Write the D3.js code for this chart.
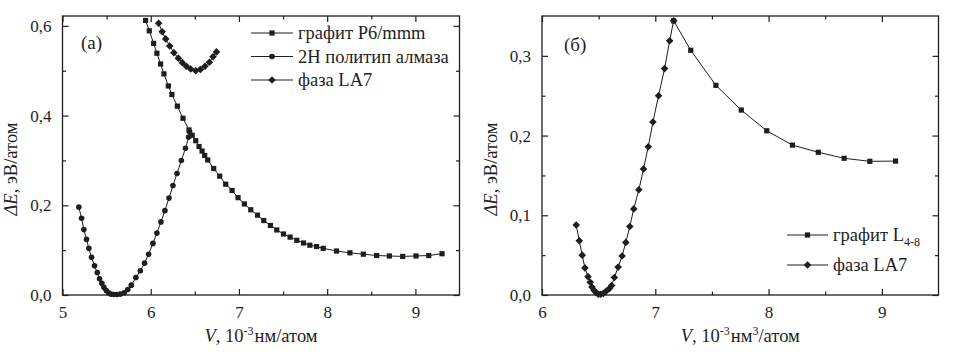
<!DOCTYPE html>
<html>
<head>
<meta charset="utf-8">
<script src="https://cdn.jsdelivr.net/npm/d3@7"></script>
<style>
  html, body { margin: 0; padding: 0; background: #fff; }
  svg { display: block; }
</style>
</head>
<body>
<svg id="chart" width="959" height="358"></svg>
<script>
// ---------- DATA ----------
// Panel (а)
const graphiteP6_V = [5.942,5.984,6.033,6.07,6.112,6.15,6.2,6.24,6.302,6.366,6.434,6.47,6.51,6.548,6.582,6.612,6.646,6.714,6.782,6.85,6.922,6.99,7.062,7.134,7.21,7.281,7.357,7.429,7.505,7.58,7.656,7.732,7.804,7.88,7.955,8.106,8.258,8.41,8.561,8.705,8.856,9.007,9.151,9.302];
const graphiteP6_E = [0.612,0.589,0.561,0.539,0.515,0.493,0.466,0.447,0.421,0.394,0.368,0.356,0.344,0.331,0.321,0.311,0.301,0.282,0.265,0.247,0.233,0.217,0.203,0.190,0.178,0.166,0.155,0.145,0.136,0.129,0.122,0.116,0.111,0.108,0.104,0.098,0.094,0.091,0.088,0.087,0.086,0.087,0.088,0.092];

const diamond2H_V = [5.185,5.216,5.242,5.272,5.299,5.329,5.363,5.394,5.42,5.446,5.469,5.496,5.522,5.548,5.582,5.616,5.655,5.7,5.74,5.78,5.832,5.882,5.93,5.976,6.025,6.07,6.116,6.161,6.207,6.252,6.298,6.347,6.394,6.43,6.441];
const diamond2H_E = [0.196,0.171,0.146,0.124,0.104,0.084,0.065,0.050,0.036,0.026,0.017,0.010,0.005,0.002,0.001,0.001,0.002,0.005,0.012,0.022,0.039,0.054,0.071,0.091,0.115,0.138,0.163,0.188,0.216,0.244,0.271,0.300,0.327,0.352,0.364];

const la7a_V = [6.09,6.13,6.17,6.215,6.263,6.313,6.358,6.404,6.453,6.51,6.563,6.615,6.665,6.706,6.745];
const la7a_E = [0.606,0.587,0.571,0.555,0.540,0.528,0.518,0.510,0.504,0.500,0.503,0.510,0.519,0.531,0.542];

// Panel (б)
const graphiteL48_V = [7.162,7.313,7.535,7.759,7.984,8.211,8.439,8.667,8.894,9.121];
const graphiteL48_E = [0.344,0.307,0.263,0.232,0.206,0.188,0.179,0.1715,0.1677,0.168];

const la7b_V = [6.302,6.329,6.355,6.379,6.406,6.426,6.441,6.459,6.477,6.497,6.518,6.542,6.568,6.595,6.615,6.639,6.672,6.707,6.74,6.775,6.81,6.855,6.896,6.938,6.979,7.029,7.082,7.127,7.162];
const la7b_E = [0.0878,0.068,0.050,0.034,0.023,0.016,0.010,0.006,0.003,0.001,0.001,0.002,0.005,0.008,0.012,0.022,0.035,0.049,0.066,0.086,0.108,0.132,0.158,0.186,0.217,0.250,0.284,0.319,0.344];

// Ticks
const xTicksA = [5,6,7,8,9];
const xMinorA = [5.5,6.5,7.5,8.5,9.5];
const yTicksA = [0,0.2,0.4,0.6];
const yMinorA = [0.1,0.3,0.5];
const xTicksB = [6,7,8,9];
const xMinorB = [6.5,7.5,8.5,9.5];
const yTicksB = [0,0.1,0.2,0.3];
const yMinorB = [0.05,0.15,0.25,0.35];

// Legend labels
const legendA = ["графит P6/mmm", "2H политип алмаза", "фаза LA7"];
const legendB = ["графит L", "фаза LA7"];

// ---------- DRAW ----------
const FONT = "'Liberation Serif'";
const svg = d3.select("#chart");
const INK = "#1e1e1e";
const fmt = d => d3.format(".1f")(d).replace(".", ",");

function zip(xs, ys) { return xs.map((x, i) => [x, ys[i]]); }
function styleText(sel, size) {
  return sel.style("font-family", FONT).style("font-size", size + "px").style("fill", INK);
}

const diamondPath = r => `M0,${-r}L${r},0L0,${r}L${-r},0Z`;
const markers = {
  square: g => g.append("rect").attr("x", -2.6).attr("y", -2.6).attr("width", 5.2).attr("height", 5.2).attr("fill", INK),
  circle: g => g.append("circle").attr("r", 2.8).attr("fill", INK),
  diamond: g => g.append("path").attr("d", diamondPath(3.8)).attr("fill", INK)
};

function panel(cfg) {
  const x = d3.scaleLinear().domain(cfg.xDomain).range([cfg.left, cfg.right]);
  const y = d3.scaleLinear().domain(cfg.yDomain).range([cfg.bottom, cfg.top]);
  const g = svg.append("g");

  const mk = (axis, vals, size, labels, fmtF) => {
    const a = axis.tickValues(vals).tickSize(size).tickSizeOuter(0);
    if (labels) a.tickFormat(fmtF).tickPadding(labels); else a.tickFormat("");
    const gg = g.append("g").call(a);
    gg.select(".domain").remove();
    gg.selectAll("line").attr("stroke", INK).attr("stroke-width", 1.2);
    styleText(gg.selectAll("text"), 17);
    return gg;
  };
  const inX = v => v < cfg.xDomain[1];
  const inY = v => v < cfg.yDomain[1];
  mk(d3.axisBottom(x), cfg.xTicks, -6, 11, d => d).attr("transform", `translate(0,${cfg.bottom})`);
  mk(d3.axisBottom(x), cfg.xMinor.filter(inX), -3.5).attr("transform", `translate(0,${cfg.bottom})`);
  mk(d3.axisTop(x), cfg.xTicks, -6).attr("transform", `translate(0,${cfg.top})`);
  mk(d3.axisTop(x), cfg.xMinor.filter(inX), -3.5).attr("transform", `translate(0,${cfg.top})`);
  mk(d3.axisLeft(y), cfg.yTicks, -6, 11, fmt).attr("transform", `translate(${cfg.left},0)`);
  mk(d3.axisLeft(y), cfg.yMinor.filter(inY), -3.5).attr("transform", `translate(${cfg.left},0)`);
  mk(d3.axisRight(y), cfg.yTicks, -6).attr("transform", `translate(${cfg.right},0)`);
  mk(d3.axisRight(y), cfg.yMinor.filter(inY), -3.5).attr("transform", `translate(${cfg.right},0)`);

  g.append("rect").attr("x", cfg.left).attr("y", cfg.top)
    .attr("width", cfg.right - cfg.left).attr("height", cfg.bottom - cfg.top)
    .attr("fill", "none").attr("stroke", INK).attr("stroke-width", 1.3);

  const line = d3.line().x(d => x(d[0])).y(d => y(d[1]));
  cfg.series.forEach(s => {
    const pts = zip(s.xs, s.ys);
    g.append("path").attr("d", line(pts)).attr("fill", "none").attr("stroke", INK).attr("stroke-width", 1);
    pts.forEach(p => {
      const mg = g.append("g").attr("transform", `translate(${x(p[0])},${y(p[1])})`);
      markers[s.marker](mg);
    });
  });

  styleText(g.append("text").attr("x", cfg.tagX).attr("y", cfg.tagY), 19).text(cfg.tag);

  const yt = styleText(g.append("text").attr("transform", `translate(${cfg.yTitleX},${cfg.yTitleY}) rotate(-90)`)
    .attr("text-anchor", "middle"), 18.5);
  yt.append("tspan").style("font-style", "italic").text("ΔE");
  yt.append("tspan").text(", эВ/атом");

  const xt = styleText(g.append("text").attr("x", (cfg.left + cfg.right) / 2).attr("y", 342)
    .attr("text-anchor", "middle"), 18.5);
  xt.append("tspan").style("font-style", "italic").text("V");
  xt.append("tspan").text(", 10");
  xt.append("tspan").attr("dy", -7).style("font-size", "12px").text("-3");
  if (cfg.cubic) {
    xt.append("tspan").attr("dy", 7).attr("dx", 1).text("нм");
    xt.append("tspan").attr("dy", -7).style("font-size", "12px").text("3");
    xt.append("tspan").attr("dy", 7).text("/атом");
  } else {
    xt.append("tspan").attr("dy", 7).attr("dx", 1).text("нм/атом");
  }

  cfg.legend.forEach((item, i) => {
    const ly = cfg.legY + i * cfg.legStep;
    g.append("line").attr("x1", cfg.legX1).attr("x2", cfg.legX2).attr("y1", ly).attr("y2", ly)
      .attr("stroke", INK).attr("stroke-width", 1);
    const mg = g.append("g").attr("transform", `translate(${(cfg.legX1 + cfg.legX2) / 2},${ly})`);
    markers[item.marker](mg);
    const t = styleText(g.append("text").attr("x", cfg.legX2 + 5).attr("y", ly + 6), 18.5).text(item.label);
    if (item.sub) {
      t.append("tspan").attr("dy", 5).style("font-size", "12px").text(item.sub);
    }
  });
}

panel({
  xDomain: [5, 9.5], yDomain: [0, 0.622],
  left: 62.5, right: 459.5, top: 16, bottom: 295,
  xTicks: xTicksA, xMinor: xMinorA, yTicks: yTicksA, yMinor: yMinorA,
  series: [
    { xs: graphiteP6_V, ys: graphiteP6_E, marker: "square" },
    { xs: diamond2H_V, ys: diamond2H_E, marker: "circle" },
    { xs: la7a_V, ys: la7a_E, marker: "diamond" }
  ],
  tag: "(а)", tagX: 81, tagY: 49,
  yTitleX: 17, yTitleY: 169,
  cubic: false,
  legend: [
    { label: legendA[0], marker: "square" },
    { label: legendA[1], marker: "circle" },
    { label: legendA[2], marker: "diamond" }
  ],
  legX1: 251, legX2: 293, legY: 33, legStep: 23.5
});

panel({
  xDomain: [6, 9.5], yDomain: [0, 0.35],
  left: 542, right: 938.5, top: 16, bottom: 295,
  xTicks: xTicksB, xMinor: xMinorB, yTicks: yTicksB, yMinor: yMinorB,
  series: [
    { xs: graphiteL48_V, ys: graphiteL48_E, marker: "square" },
    { xs: la7b_V, ys: la7b_E, marker: "diamond" }
  ],
  tag: "(б)", tagX: 564, tagY: 51,
  yTitleX: 497, yTitleY: 169,
  cubic: true,
  legend: [
    { label: legendB[0], marker: "square", sub: "4-8" },
    { label: legendB[1], marker: "diamond" }
  ],
  legX1: 787, legX2: 828, legY: 235, legStep: 30
});
</script>
</body>
</html>
